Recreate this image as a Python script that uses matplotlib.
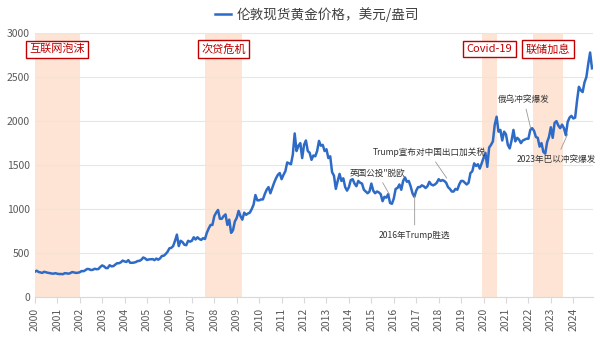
import numpy as np
import matplotlib.pyplot as plt

plt.rcParams['font.family'] = ['Noto Sans CJK SC', 'DejaVu Sans']

# monthly London spot gold price, USD/oz (Jan 2000 - Nov 2024)
price = [
    288, 300, 286, 280, 275, 288, 282, 276, 273, 268, 266, 272,
    266, 262, 263, 260, 272, 270, 266, 273, 285, 280, 275, 277,
    282, 296, 294, 305, 320, 318, 308, 310, 322, 317, 319, 342,
    360, 350, 330, 330, 362, 350, 352, 368, 385, 385, 395, 415,
    405, 400, 420, 390, 390, 392, 398, 410, 412, 425, 450, 440,
    422, 428, 430, 432, 420, 438, 425, 440, 468, 470, 490, 515,
    555, 560, 580, 640, 710, 580, 640, 625, 595, 590, 640, 630,
    640, 680, 655, 680, 660, 650, 670, 660, 730, 780, 820, 820,
    920, 960, 990, 890, 890, 920, 940, 820, 880, 730, 760, 860,
    900, 980, 920, 880, 960, 935, 950, 960, 1000, 1050, 1160, 1100,
    1100, 1110, 1110, 1170, 1220, 1250, 1180, 1240, 1300, 1350, 1390, 1410,
    1340, 1390, 1430, 1530, 1520, 1510, 1620, 1860, 1660, 1720, 1750, 1580,
    1730, 1780, 1660, 1640, 1560, 1610, 1600, 1660, 1775, 1720, 1730, 1660,
    1680, 1580, 1600, 1420, 1380, 1230, 1320, 1400, 1320, 1350, 1250, 1210,
    1250, 1330, 1340, 1290, 1260, 1320, 1300, 1290, 1220, 1200, 1180, 1200,
    1290, 1210, 1180, 1200, 1190, 1170, 1090, 1140, 1130, 1170, 1070, 1060,
    1120, 1230, 1240, 1280, 1220, 1320, 1360, 1310, 1320, 1260, 1180, 1140,
    1210, 1250, 1250, 1270, 1260, 1240, 1260, 1310, 1280, 1270, 1280, 1300,
    1340, 1320, 1330, 1320, 1300, 1250, 1230, 1200, 1200, 1230, 1220, 1280,
    1320, 1320, 1300, 1280, 1300, 1410, 1430, 1520, 1490, 1510, 1460, 1520,
    1580, 1640, 1480, 1700, 1730, 1770, 1960, 2050, 1880, 1900, 1780, 1880,
    1850, 1730, 1690, 1780, 1900, 1770, 1810, 1790, 1750, 1780, 1790, 1800,
    1800, 1900, 1920, 1890, 1820, 1810, 1710, 1750, 1650, 1630, 1760, 1820,
    1930, 1810, 1980, 2000, 1950, 1920, 1960, 1920, 1840, 1990, 2040, 2060,
    2030, 2040, 2230, 2390, 2350, 2330, 2440, 2500, 2650, 2780, 2600,
]
years = 2000 + np.arange(len(price)) / 12

# shaded periods (start, end) and their labels
periods = [(2000.0, 2002.0), (2007.6, 2009.25), (2019.95, 2020.6), (2022.2, 2023.55)]
period_labels = ["互联网泡沫", "次贷危机", "Covid-19", "联储加息"]

# event annotations: text, text position, point
events = ["英国公投\"脱欧", "2016年Trump胜选", "Trump宣布对中国出口加关税", "俄乌冲突爆发", "2023年巴以冲突爆发"]
event_text_xy = [(2015.26, 1410), (2016.93, 705), (2017.56, 1648), (2021.79, 2250), (2023.25, 1568)]
event_point_xy = [(2015.82, 1160), (2016.93, 1148), (2018.36, 1352), (2022.1, 1920), (2023.75, 1852)]

fig = plt.figure(figsize=(6, 3.38), dpi=100)
ax = fig.add_axes([0.058, 0.121, 0.93, 0.781])

for (a, b), lab in zip(periods, period_labels):
    ax.axvspan(a, b, color='#fde4d4', lw=0, zorder=0)
    ax.text((a + b) / 2, 2818, lab, ha='center', va='center', fontsize=8, color='#c00000',
            bbox=dict(boxstyle='square,pad=0.3', fc='white', ec='#c00000', lw=1), zorder=5)

line, = ax.plot(years, price, color='#2e6bc6', lw=1.8, zorder=3, label='伦敦现货黄金价格，美元/盎司')

for t, txy, pxy in zip(events, event_text_xy, event_point_xy):
    ax.annotate(t, xy=pxy, xytext=txy, ha='center', va='center', fontsize=6.2, color='#333333',
                arrowprops=dict(arrowstyle='-', color='#999999', lw=0.6, shrinkA=2, shrinkB=0),
                zorder=6, annotation_clip=False)

ax.set_xlim(2000, 2024.87)
ax.set_ylim(0, 3000)
ax.set_yticks(np.arange(0, 3001, 500))
ax.set_xticks(np.arange(2000, 2025))
ax.set_xticklabels([str(y) for y in range(2000, 2025)], rotation=90)
ax.grid(axis='y', color='#e6e6e6', lw=0.8, zorder=0)
ax.set_axisbelow(True)
for s in ['top', 'right', 'left']:
    ax.spines[s].set_visible(False)
ax.spines['bottom'].set_color('#d9d9d9')
ax.tick_params(axis='y', length=0, labelsize=7.5, labelcolor='#595959')
ax.tick_params(axis='x', length=4, color='#d9d9d9', labelsize=7.5, labelcolor='#595959')

fig.legend(handles=[line], loc='center', bbox_to_anchor=(0.528, 0.958), frameon=False,
           fontsize=9.8, labelcolor='#404040', handlelength=1.2, handletextpad=0.4)

fig.savefig('out.png', dpi=100)
